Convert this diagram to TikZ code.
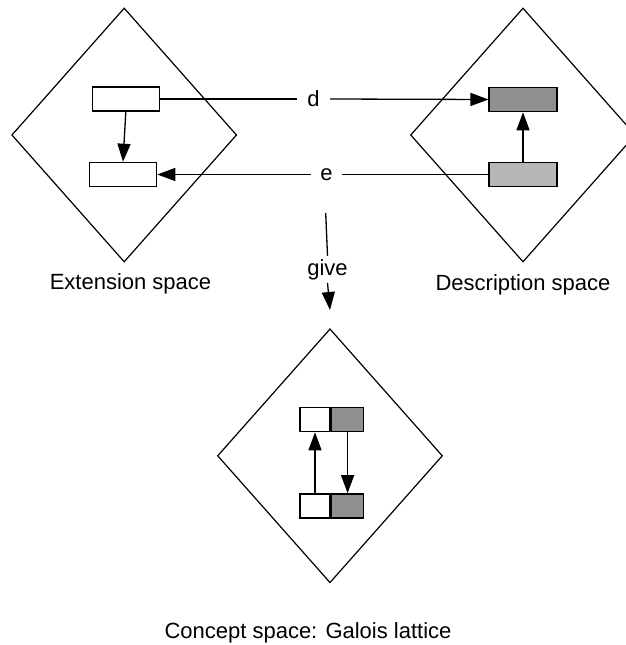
\documentclass[tikz,border=0pt]{standalone}
\usepackage{fontspec}
\setmainfont{Liberation Sans}
\usetikzlibrary{shapes.geometric,arrows.meta}
\definecolor{darkbox}{RGB}{143,143,143}
\definecolor{lightbox}{RGB}{182,182,182}
\begin{document}
\begin{tikzpicture}[x=1pt,y=-1pt,
  font=\fontsize{22}{26}\selectfont,
  space/.style={draw,line width=1.2pt,shape=diamond,minimum width=225pt,minimum height=254pt,inner sep=0pt},
  cell/.style={draw,line width=1.6pt,minimum height=24pt,inner sep=0pt},
  arr/.style={line width=1.3pt,-{Triangle[length=18pt,width=13pt]}},
  conn/.style={line width=1.3pt},
  lbl/.style={inner sep=0pt}]
\useasboundingbox (0,0) rectangle (626,645);
% spaces
\node[space] (ext) at (124.2,135) {};
\node[space] (desc) at (523,135) {};
\node[space] (conc) at (330,455.8) {};
% extension space boxes
\node[cell,minimum width=67pt,fill=white] (A) at (125.8,99) {};
\node[cell,minimum width=67pt,fill=white] (B) at (123,174.5) {};
% description space boxes
\node[cell,minimum width=67.5pt,fill=darkbox] (C) at (523,99.5) {};
\node[cell,minimum width=67.5pt,fill=lightbox] (D) at (523,174.5) {};
% concept space boxes
\node[cell,minimum width=30pt,fill=white] (TW) at (315,419.5) {};
\node[cell,minimum width=32pt,fill=darkbox,anchor=west] (TG) at (TW.east) {};
\node[cell,minimum width=30pt,fill=white] (BW) at (315,506) {};
\node[cell,minimum width=32pt,fill=darkbox,anchor=west] (BG) at (BW.east) {};
% arrows inside spaces
\draw[arr] (A.south) -- (B.north);
\draw[arr] (D.north) -- (C.south);
\draw[arr] (BW.north) -- (TW.south);
\draw[arr] (TG.south) -- (BG.north);
% d and e
\node[lbl,inner xsep=10.4pt] (d) at (313.5,99) {d};
\draw[conn] (A.east) -- (d.west);
\draw[arr] (d.east) -- (C.west);
\node[lbl,inner xsep=9pt] (e) at (326.5,174.5) {e};
\draw[conn] (D.west) -- (e.east);
\draw[arr] (e.west) -- (B.east);
% give
\coordinate (gtop) at (325.7,213);
\coordinate (gtip) at (330,310);
\node[lbl,inner ysep=3pt] (give) at (327.5,269.4) {give};
\draw[conn] (gtop) -- (give.north);
\draw[arr] (give.south) -- (gtip);
% labels
\node[lbl,anchor=base] (extl) at (130.5,289) {Extension space};
\node[lbl,anchor=base] (descl) at (523,290) {Description space};
\node[lbl,anchor=base] (concl) at (308,638) {Concept space: Galois lattice};
\end{tikzpicture}
\end{document}
